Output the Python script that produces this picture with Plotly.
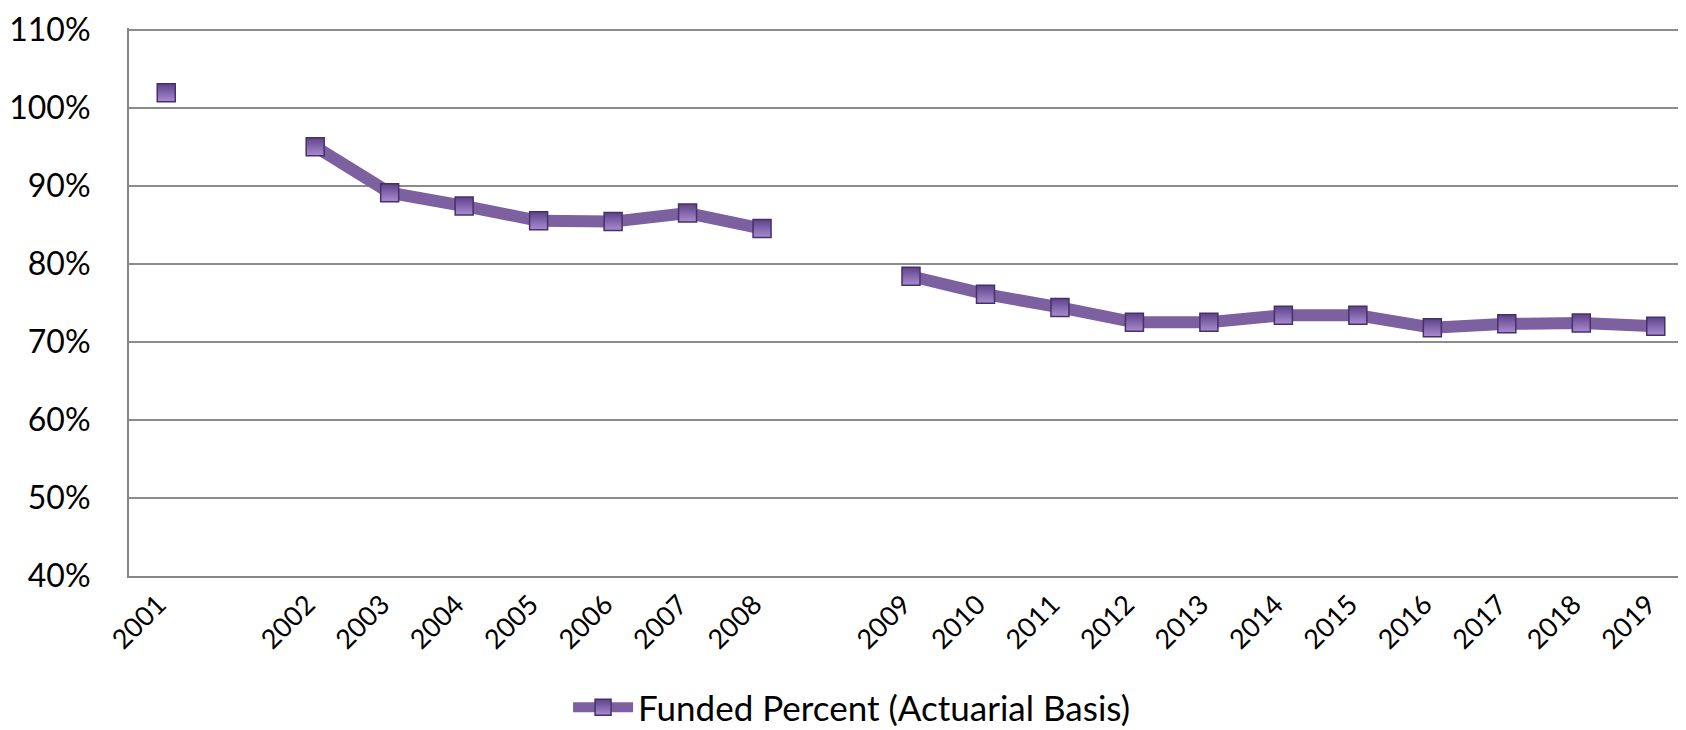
import plotly.graph_objects as go

# Categories (blank slots reproduce the gaps on the category axis)
categories = ["2001", " ", "2002", "2003", "2004", "2005", "2006", "2007", "2008", "  ",
              "2009", "2010", "2011", "2012", "2013", "2014", "2015", "2016", "2017", "2018", "2019"]
funded_pct = [1.019, None, 0.950, 0.891, 0.874, 0.855, 0.854, 0.865, 0.845, None,
              0.784, 0.761, 0.744, 0.725, 0.725, 0.734, 0.734, 0.718, 0.723, 0.724, 0.720]
series_name = "Funded Percent (Actuarial Basis)"
y_ticks = [0.4, 0.5, 0.6, 0.7, 0.8, 0.9, 1.0, 1.1]
y_labels = ["40%", "50%", "60%", "70%", "80%", "90%", "100%", "110%"]

FONT = "Lato, 'Open Sans', sans-serif"

fig = go.Figure()
fig.add_trace(go.Scatter(
    x=categories, y=funded_pct, name=series_name,
    mode="lines+markers", connectgaps=False,
    line=dict(color="#7D60A0", width=12),
    marker=dict(symbol="square", size=18, color="#5E4388",
                line=dict(color="#47306A", width=1.5),
                gradient=dict(type="vertical", color="#A98BD2")),
))

fig.update_layout(
    width=1686, height=730,
    margin=dict(l=121, r=1, t=20, b=152),
    paper_bgcolor="white", plot_bgcolor="white",
    font=dict(family=FONT, color="black"),
    showlegend=True,
    legend=dict(orientation="h", x=0.462, xanchor="center", y=-0.24, yanchor="middle",
                font=dict(size=35, family=FONT, color="black"),
                itemwidth=60, bgcolor="rgba(0,0,0,0)"),
)
fig.update_xaxes(
    type="category", categoryorder="array", categoryarray=categories,
    range=[-0.5, len(categories) - 0.5], automargin=False,
    showgrid=False, showline=True, linecolor="#878787", linewidth=2,
    tickangle=-45, tickfont=dict(size=27, family=FONT, color="black"),
    ticks="", ticklabelstandoff=0, ticklabelshift=-8, zeroline=False,
)
fig.update_yaxes(
    range=[0.4, 1.102], tickmode="array", tickvals=y_ticks, ticktext=y_labels,
    automargin=False,
    showgrid=True, gridcolor="#8C8C8C", gridwidth=1.5,
    showline=True, linecolor="#878787", linewidth=2,
    tickfont=dict(size=32, family=FONT, color="black"),
    ticks="", ticklabelstandoff=30, zeroline=False,
)

fig.write_html("out.html")
